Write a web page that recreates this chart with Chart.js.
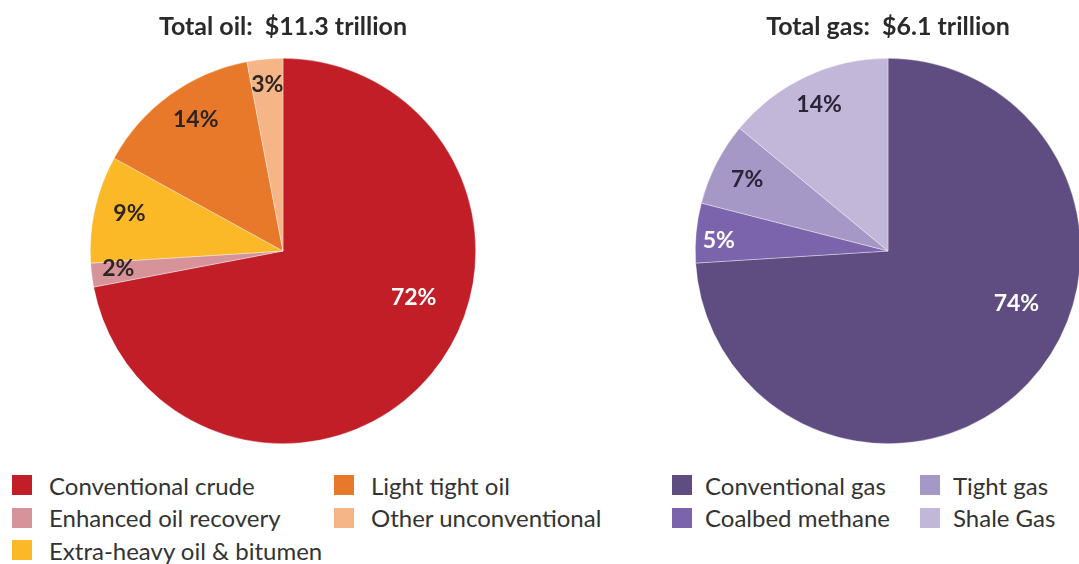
<!DOCTYPE html>
<html>
<head>
<meta charset="utf-8">
<script src="https://cdn.jsdelivr.net/npm/chart.js@4"></script>
<style>
  html, body { margin: 0; padding: 0; background: #fff; }
  body { width: 1079px; height: 564px; position: relative; overflow: hidden; font-family: Lato, "Open Sans", sans-serif; }
  .box { position: absolute; top: 0; height: 460px; }
  .legend { position: absolute; display: grid; grid-auto-flow: column; color: #333; font-size: 24px; }
  .legend .item { display: flex; align-items: center; height: 32.5px; white-space: nowrap; }
  .legend .sw { width: 20px; height: 20px; margin-right: 17px; flex: none; }
  #gasLegend .sw { margin-right: 13px; }
</style>
</head>
<body>
<div class="box" style="left:0;width:566px"><canvas id="oil"></canvas></div>
<div class="box" style="left:605px;width:566px"><canvas id="gas"></canvas></div>
<div class="legend" id="oilLegend" style="left:12px;top:469px;grid-template-rows:repeat(3,32.5px);grid-template-columns:322px auto"></div>
<div class="legend" id="gasLegend" style="left:672px;top:469px;grid-template-rows:repeat(2,32.5px);grid-template-columns:248px auto"></div>
<script>
// oil
const oilLabels = ["Conventional crude", "Enhanced oil recovery", "Extra-heavy oil & bitumen", "Light tight oil", "Other unconventional"];
const oilShare = [72, 2, 9, 14, 3];
const oilColors = ["#C11E27", "#D7939A", "#FBB928", "#E8792B", "#F6B586"];
const oilTitle = "Total oil:  $11.3 trillion";

// gas
const gasLabels = ["Conventional gas", "Coalbed methane", "Tight gas", "Shale Gas"];
const gasShare = [74, 5, 7, 14];
const gasColors = ["#5F4D82", "#7C64AC", "#A698C6", "#C3B7D9"];
const gasTitle = "Total gas:  $6.1 trillion";

// draws the % labels inside the slices
const sliceLabels = {
  id: "sliceLabels",
  afterDatasetsDraw(chart, args, opts) {
    const ctx = chart.ctx;
    const meta = chart.getDatasetMeta(0);
    const values = chart.data.datasets[0].data;
    ctx.save();
    ctx.font = "bold 23px Lato, 'Open Sans', sans-serif";
    ctx.textAlign = "center";
    ctx.textBaseline = "middle";
    meta.data.forEach((arc, i) => {
      const p = arc.getProps(["x", "y", "startAngle", "endAngle", "outerRadius"], true);
      const mid = (p.startAngle + p.endAngle) / 2 + (opts.shift[i] || 0) * Math.PI / 180;
      const r = p.outerRadius * opts.radius[i];
      ctx.fillStyle = opts.colors[i];
      ctx.fillText(values[i] + "%", p.x + Math.cos(mid) * r, p.y + Math.sin(mid) * r);
    });
    ctx.restore();
  }
};

function makePie(id, labels, values, colors, title, labelOpts) {
  return new Chart(document.getElementById(id), {
    type: "pie",
    data: {
      labels: labels,
      datasets: [{ data: values, backgroundColor: colors, borderWidth: 0.6, borderColor: "rgba(255,255,255,0.6)" }]
    },
    options: {
      responsive: true,
      maintainAspectRatio: false,
      animation: false,
      layout: { padding: { bottom: 16 } },
      plugins: {
        legend: { display: false },
        tooltip: { enabled: false },
        title: {
          display: true,
          text: title,
          color: "#2a2a2a",
          font: { family: "Lato, 'Open Sans', sans-serif", size: 25, weight: "bold", lineHeight: 1.2 },
          padding: { top: 12, bottom: 16 }
        },
        sliceLabels: labelOpts
      }
    },
    plugins: [sliceLabels]
  });
}

function htmlLegend(chart, el) {
  const items = Chart.overrides.pie.plugins.legend.labels.generateLabels(chart);
  items.forEach(it => {
    const d = document.createElement("div");
    d.className = "item";
    const sw = document.createElement("span");
    sw.className = "sw";
    sw.style.background = it.fillStyle;
    d.appendChild(sw);
    d.appendChild(document.createTextNode(it.text));
    el.appendChild(d);
  });
}

const oilChart = makePie("oil", oilLabels, oilShare, oilColors, oilTitle, {
  radius: [0.72, 0.86, 0.82, 0.82, 0.87],
  shift: [-20, 1, 1, 2.5, 0],
  colors: ["#fff", "#2e2424", "#2e2424", "#2e2424", "#2e2424"]
});
const gasChart = makePie("gas", gasLabels, gasShare, gasColors, gasTitle, {
  radius: [0.72, 0.88, 0.82, 0.84],
  shift: [-21, -2, 0, 0],
  colors: ["#fff", "#fff", "#2a2438", "#2a2438"]
});
htmlLegend(oilChart, document.getElementById("oilLegend"));
htmlLegend(gasChart, document.getElementById("gasLegend"));
</script>
</body>
</html>
